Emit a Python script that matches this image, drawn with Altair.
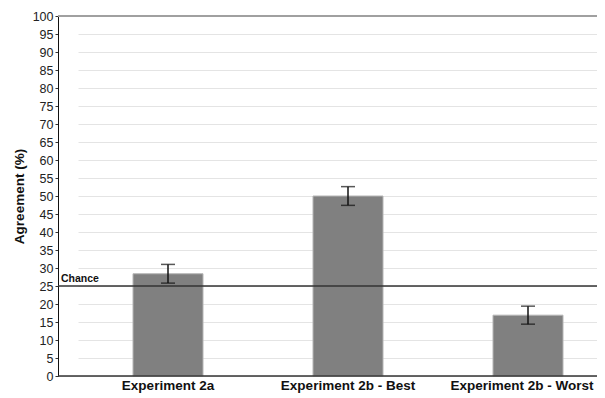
import altair as alt
import pandas as pd

conditions = ["Experiment 2a", "Experiment 2b - Best", "Experiment 2b - Worst"]
agreement = [28.4, 50.0, 16.9]
err_low = [25.8, 47.4, 14.4]
err_high = [31.0, 52.6, 19.4]
chance_level = [25]
y_ticks = list(range(0, 101, 5))

df = pd.DataFrame({"cond": conditions, "val": agreement, "lo": err_low, "hi": err_high})
chance_df = pd.DataFrame({"c": chance_level, "label": ["Chance"]})

FONT = "Liberation Sans"
W, H = 539, 360

xscale = alt.Scale(range=[20, 560], paddingInner=0, paddingOuter=0)
xaxis = alt.Axis(labelAngle=0, domain=False, ticks=False, labelPadding=2,
                 labelFont=FONT, labelFontSize=13.5, labelFontWeight="bold",
                 labelColor="#111", labelBaseline="top",
                 labelOffset=alt.expr("datum.value == 'Experiment 2b - Worst' ? -6 : 0"))
yscale = alt.Scale(domain=[0, 100], nice=False)
yaxis = alt.Axis(values=y_ticks, grid=True, gridColor="#e4e4e4", gridWidth=1,
                 labelOverlap=False, tickCount=21,
                 domainColor="#111", domainWidth=1, tickColor="#333", tickSize=3,
                 labelFont=FONT, labelFontSize=12.5, labelColor="#222", labelPadding=2,
                 titleFont=FONT, titleFontSize=13.5, titleFontWeight="bold",
                 titleColor="#111", titlePadding=6)

def X():
    return alt.X("cond:N", sort=conditions, title=None, scale=xscale, axis=xaxis)

def Y(field):
    return alt.Y(field, scale=yscale, title="Agreement (%)", axis=yaxis)

bars = alt.Chart(df).mark_bar(size=70, color="#808080", stroke="#b5b5b5", strokeWidth=1).encode(
    x=X(), y=Y("val:Q"))

err = alt.Chart(df).mark_rule(color="#111", strokeWidth=1.5).encode(
    x=X(), y=Y("lo:Q"), y2="hi:Q")
cap_lo = alt.Chart(df).mark_tick(color="#111", size=14, thickness=1.5).encode(
    x=X(), y=Y("lo:Q"))
cap_hi = alt.Chart(df).mark_tick(color="#111", size=14, thickness=1.5).encode(
    x=X(), y=Y("hi:Q"))

chance = alt.Chart(chance_df).mark_rule(color="#333", strokeWidth=1.5).encode(y=Y("c:Q"))
chance_txt = alt.Chart(chance_df).mark_text(
    align="left", baseline="bottom", dy=-2, font=FONT, fontSize=10.5, fontWeight="bold", color="#111"
).encode(x=alt.value(3), y=Y("c:Q"), text="label:N")

top_line = alt.Chart(pd.DataFrame({"t": [100]})).mark_rule(color="#a0a0a0", strokeWidth=2).encode(y=Y("t:Q"))
base_line = alt.Chart(pd.DataFrame({"b": [0]})).mark_rule(color="#333", strokeWidth=1.5).encode(y=Y("b:Q"))

chart = alt.layer(bars, chance, err, cap_lo, cap_hi, chance_txt, top_line, base_line).properties(
    width=W, height=H,
    autosize=alt.AutoSizeParams(type="none"),
    padding={"left": 50, "top": 8, "right": 0, "bottom": 18},
).configure_view(stroke=None).configure(background="white")

chart.save("out.html", embed_options={"renderer": "svg", "actions": False})
